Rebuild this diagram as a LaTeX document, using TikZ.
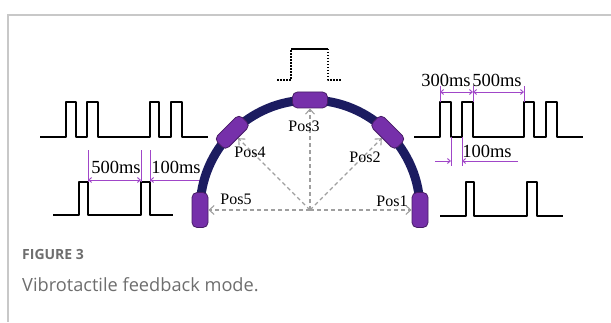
\documentclass[tikz,border=0pt]{standalone}
\usepackage{fontspec}
\setmainfont{Liberation Serif}
\newfontfamily\capfont{Open Sans}
\usetikzlibrary{arrows.meta, calc, positioning}

\definecolor{navyarc}{RGB}{28,28,96}
\definecolor{padfill}{RGB}{118,48,170}
\definecolor{dimline}{RGB}{160,70,200}
\definecolor{framegray}{RGB}{200,200,200}
\definecolor{capgray}{RGB}{110,110,110}

\tikzset{
  wave/.style={line width=1.6pt, line join=round},
  dotwave/.style={wave, dash pattern=on 1.5pt off 1.5pt},
  pad/.style={draw=padfill!60!black, fill=padfill, rounded corners=5pt,
    minimum width=35pt, minimum height=16pt, inner sep=0pt, line width=0.8pt},
  ray/.style={dash pattern=on 4pt off 3pt, gray!75, line width=1.1pt, -{Straight Barb[length=5pt,width=9pt]}},
  dim/.style={dimline, line width=0.9pt},
  dimarrow/.style={dim, {Straight Barb[length=3pt,width=5pt]}-{Straight Barb[length=3pt,width=5pt]}},
  lbl/.style={font=\fontsize{18.5}{20}\selectfont, inner sep=0pt},
  poslbl/.style={font=\fontsize{16}{18}\selectfont, inner sep=0pt},
}

\begin{document}
\begin{tikzpicture}[x=1pt, y=1pt, >=Stealth]
    \useasboundingbox (0,0) rectangle (611,322);
    % frame
    \draw[framegray, line width=1.2pt] (611,307) -- (8,307) -- (8,0);

    % left waveforms
    \draw[wave] (40,185) -- (66,185) -- (66,220) -- (76,220) -- (76,185) -- (87,185) -- (87,220) -- (98,220) -- (98,185)
        -- (150,185) -- (150,220) -- (159,220) -- (159,185) -- (171,185) -- (171,220) -- (182,220) -- (182,185) -- (208,185);
    \draw[wave] (53,107) -- (79,107) -- (79,140) -- (88,140) -- (88,107) -- (141,107) -- (141,140) -- (150,140) -- (150,107) -- (173,107);

    % right waveforms
    \draw[wave] (414,185) -- (440,185) -- (440,220) -- (451,220) -- (451,185) -- (462,185) -- (462,220) -- (473,220) -- (473,185)
        -- (524,185) -- (524,220) -- (534,220) -- (534,185) -- (546,185) -- (546,220) -- (557,220) -- (557,185) -- (583,185);
    \draw[wave] (440,106) -- (466,106) -- (466,140) -- (474,140) -- (474,106) -- (527,106) -- (527,140) -- (537,140) -- (537,106) -- (563,106);

    % top pulse
    \draw[dotwave] (277,242) -- (291,242) -- (291,273);
    \draw[wave] (291,273) -- (328,273);
    \draw[dotwave] (328,273) -- (328,242) -- (342,242);

    % left dimensions
    \coordinate (la) at (88,142);
    \coordinate (lb) at (141,142);
    \coordinate (lc) at (150,142);
    \coordinate (ld) at (205,142);
    \draw[dim] (88,172) -- (88,140) (141,172) -- (141,140) (150,172) -- (150,140);
    \draw[dimarrow] (la) -- (lb);
    \draw[dim, {Straight Barb[length=3pt,width=5pt]}-] (lc) -- (ld);
    \node[lbl] (l500) at (116,155) {500ms};
    \node[lbl] (l100) at (176,155) {100ms};

    % right dimensions
    \coordinate (ra) at (440,230);
    \coordinate (rb) at (473,230);
    \coordinate (rc) at (524,230);
    \coordinate (rd) at (435,161);
    \coordinate (re) at (451,161);
    \coordinate (rf) at (462,161);
    \coordinate (rg) at (518,161);
    \draw[dim] (440,236) -- (440,220) (473,236) -- (473,220) (524,236) -- (524,220);
    \draw[dim] (451,185) -- (451,156) (462,185) -- (462,156);
    \draw[dimarrow] (ra) -- (rb);
    \draw[dimarrow] (rb) -- (rc);
    \draw[dim, -{Straight Barb[length=3pt,width=5pt]}] (rd) -- (re);
    \draw[dim, -{Straight Barb[length=3pt,width=5pt]}] (rg) -- (rf);
    \node[lbl] (r300) at (446,242) {300ms};
    \node[lbl] (r500) at (497,242) {500ms};
    \node[lbl] (r100) at (487,171) {100ms};

    % arc with pads
    \coordinate (c) at (310,112);
    \draw[navyarc, line width=9pt] (200,112) arc (180:0:110);
    \foreach \a/\n in {0/1, 45/2, 90/3, 135/4, 180/5}
        \node[pad, rotate=\a-90] (p\n) at ($(c)+(\a:110)$) {};
    \foreach \n in {1,...,5}
        \draw[ray] (c) -- (p\n);

    \node[poslbl] (pos1) at (392,121) {Pos1};
    \node[poslbl] (pos2) at (365,165) {Pos2};
    \node[poslbl] (pos3) at (304,196) {Pos3};
    \node[poslbl] (pos4) at (250,170) {Pos4};
    \node[poslbl] (pos5) at (236,123) {Pos5};

    % caption
    \node[anchor=west, inner sep=0pt, text=capgray, font=\capfont\bfseries\fontsize{14}{16}\selectfont] (fig) at (22,68) {FIGURE 3};
    \node[anchor=west, inner sep=0pt, text=capgray, font=\capfont\fontsize{18.2}{20}\selectfont] (cap) at (22,37) {Vibrotactile feedback mode.};
\end{tikzpicture}
\end{document}
